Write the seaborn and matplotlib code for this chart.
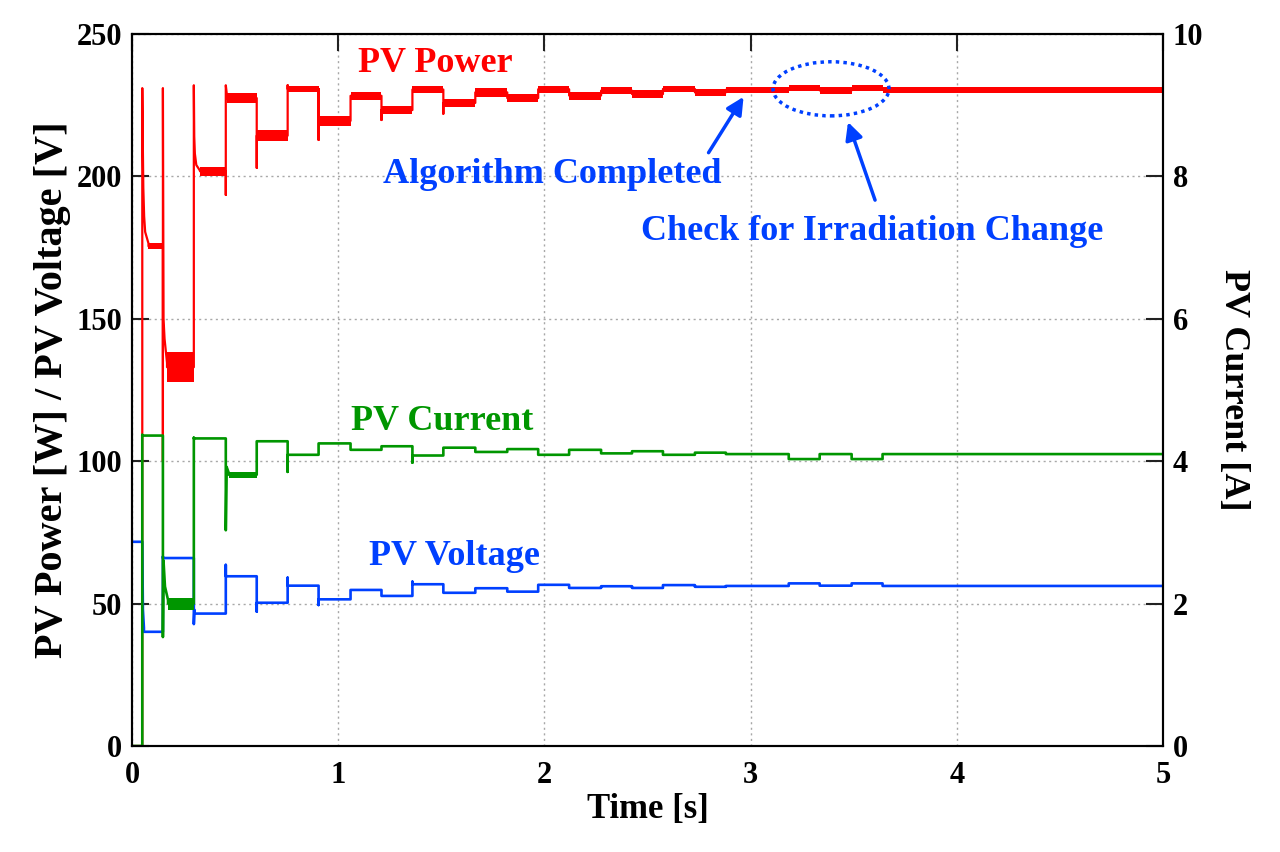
import numpy as np
import pandas as pd
import matplotlib
matplotlib.use('Agg')
import matplotlib.pyplot as plt
from matplotlib.patches import Ellipse
import seaborn as sns

# step instants of the P&O search [s]
step_times = [0.05, 0.15, 0.30, 0.455, 0.605, 0.755, 0.905, 1.06, 1.21, 1.36,
              1.51, 1.665, 1.82, 1.97, 2.12, 2.275, 2.425, 2.575, 2.73, 2.88,
              3.03, 3.185, 3.335, 3.49, 3.64]

# PV power [W]
power_init = 0.0
power_levels = [175.5, 133.0, 201.8, 227.5, 214.3, 230.7, 219.5, 228.3, 223.3, 230.5,
                225.8, 229.5, 227.5, 230.6, 228.4, 230.1, 228.9, 230.7, 229.5, 230.4,
                230.4, 231.0, 230.2, 231.0, 230.4]
power_lo = [0.0, 100.0, None, 193.5, 203.0, None, 212.8, None, 219.8, None,
            222.0, None, None, None, None, None, None, None, None, None,
            None, None, None, None, None]
power_hi = [231.0, 231.0, 232.0, 232.0, None, 232.0, 230.7, None, None, None,
            None, None, None, None, None, None, None, None, None, None,
            None, None, None, None, None]
power_trans = {0: [(0.002, 215.0), (0.005, 196.0), (0.009, 186.0), (0.014, 180.5), (0.03, 176.5)],
               1: [(0.003, 150.0), (0.008, 143.0), (0.02, 134.5)],
               2: [(0.002, 214.0), (0.005, 208.0), (0.012, 204.0), (0.03, 202.0)],
               3: [(0.004, 229.5)]}
power_band = [2.2, 10.5, 3.1, 3.5, 3.9, 1.9, 3.4, 3.0, 2.8, 2.5,
              3.1, 2.9, 2.9, 2.6, 2.8, 2.4, 2.7, 2.4, 2.4, 2.3,
              2.3, 2.3, 2.3, 2.3, 2.3]

# PV current [A]
current_init = 0.0
current_levels = [4.36, 2.00, 4.32, 3.81, 4.28, 4.09, 4.25, 4.16, 4.21, 4.08,
                  4.19, 4.13, 4.17, 4.09, 4.16, 4.11, 4.14, 4.09, 4.12, 4.10,
                  4.10, 4.03, 4.10, 4.03, 4.10]
current_lo = [None, 1.53, None, 3.03, None, 3.85, None, None, None, 3.98,
              None, None, None, None, None, None, None, None, None, None,
              None, None, None, None, None]
current_hi = [4.37, None, 4.33, None, None, None, None, None, None, None,
              None, None, None, None, None, None, None, None, None, None,
              None, None, None, None, None]
current_trans = {1: [(0.003, 2.60), (0.01, 2.24), (0.025, 2.05)],
                 3: [(0.004, 3.92), (0.015, 3.83)]}
current_band = [0.0, 0.17, 0.0, 0.08, 0.0, 0.0, 0.0, 0.0, 0.0, 0.0,
                0.0, 0.0, 0.0, 0.0, 0.0, 0.0, 0.0, 0.0, 0.0, 0.0,
                0.0, 0.0, 0.0, 0.0, 0.0]

# PV voltage [V]
voltage_init = 71.7
voltage_levels = [40.1, 66.0, 46.5, 59.6, 50.3, 56.3, 51.5, 54.8, 52.7, 56.8,
                  53.8, 55.4, 54.2, 56.6, 55.5, 56.1, 55.5, 56.5, 55.9, 56.2,
                  56.2, 57.1, 56.3, 57.1, 56.2]
voltage_lo = [None, None, 42.8, None, 47.2, None, 49.5, None, None, None,
              None, None, None, None, None, None, None, None, None, None,
              None, None, None, None, None]
voltage_hi = [None, 66.5, None, 63.6, None, 59.1, None, None, None, 57.7,
              None, None, None, None, None, None, None, None, None, None,
              None, None, None, None, None]
voltage_trans = {0: [(0.003, 48.0), (0.008, 41.5)],
                 2: [(0.003, 47.8)]}

T_END = 5.0
RED = '#FF0000'
GREEN = '#009600'
BLUE = '#0040FF'


def build_wave(init, levels, lo, hi, trans):
    xs, ys = [0.0], [init]
    prev = init
    for k, t in enumerate(step_times):
        xs.append(t); ys.append(prev)
        if lo[k] is not None:
            xs.append(t); ys.append(lo[k])
        if hi[k] is not None:
            xs.append(t); ys.append(hi[k])
        last_dt = 0.0
        for dt, v in trans.get(k, []):
            xs.append(t + dt); ys.append(v)
            last_dt = dt
        xs.append(t + last_dt); ys.append(levels[k])
        prev = levels[k]
    xs.append(T_END); ys.append(prev)
    return pd.DataFrame({'t': xs, 'v': ys})


def draw_bands(ax, levels, band, trans, color):
    for k, t in enumerate(step_times):
        if band[k] <= 0:
            continue
        tr = trans.get(k, [])
        a = t + (tr[-1][0] if tr else 0.0)
        b = step_times[k + 1] if k + 1 < len(step_times) else T_END
        ax.fill_between([a, b], levels[k] - band[k] / 2, levels[k] + band[k] / 2,
                        color=color, linewidth=0)


df_p = build_wave(power_init, power_levels, power_lo, power_hi, power_trans)
df_i = build_wave(current_init, current_levels, current_lo, current_hi, current_trans)
df_v = build_wave(voltage_init, voltage_levels, voltage_lo, voltage_hi, voltage_trans)

sns.set_theme(style='white')
plt.rcParams['font.family'] = ['Liberation Serif', 'DejaVu Serif']
plt.rcParams['font.weight'] = 'bold'
plt.rcParams['text.color'] = 'black'
plt.rcParams['axes.labelcolor'] = 'black'
plt.rcParams['xtick.color'] = 'black'
plt.rcParams['ytick.color'] = 'black'

fig = plt.figure(figsize=(12.8, 8.52), dpi=100)
ax = fig.add_axes([0.1031, 0.1244, 0.8055, 0.8357])

sns.lineplot(data=df_p, x='t', y='v', ax=ax, sort=False, estimator=None,
             color=RED, linewidth=1.6)
draw_bands(ax, power_levels, power_band, power_trans, RED)
sns.lineplot(data=df_v, x='t', y='v', ax=ax, sort=False, estimator=None,
             color=BLUE, linewidth=1.9)

ax.set_xlim(0, 5)
ax.set_ylim(0, 250)
ax.set_xticks(range(0, 6))
ax.set_yticks(range(0, 251, 50))
ax.grid(True, linestyle=(0, (1.5, 2.5)), color='#a8a8a8', linewidth=1.0)
ax.tick_params(direction='in', length=12, width=1.5, top=True, right=False,
               labelsize=22, pad=7, color='#222222', labelcolor='black')
ax.tick_params(axis='x', pad=11)
ax.set_xlabel('Time [s]', fontsize=25, fontweight='bold', labelpad=2)
ax.set_ylabel('PV Power [W] / PV Voltage [V]', fontsize=29, fontweight='bold', labelpad=4)
for lab in ax.get_xticklabels() + ax.get_yticklabels():
    lab.set_fontweight('bold')

ax2 = ax.twinx()
sns.lineplot(data=df_i, x='t', y='v', ax=ax2, sort=False, estimator=None,
             color=GREEN, linewidth=1.9)
draw_bands(ax2, current_levels, current_band, current_trans, GREEN)
ax2.set_ylim(0, 10)
ax2.set_yticks(range(0, 11, 2))
ax2.tick_params(direction='in', length=12, width=1.5, labelsize=22, pad=7,
                color='#222222', labelcolor='black')
ax2.set_ylabel('PV Current [A]', fontsize=26, fontweight='bold', rotation=270, labelpad=34)
ax2.set_xlabel('')
for lab in ax2.get_yticklabels():
    lab.set_fontweight('bold')

for a in (ax, ax2):
    for sp in a.spines.values():
        sp.set_color('black')
        sp.set_linewidth(1.5)

# labels for the traces
ax.text(1.469, 239.5, 'PV Power', color=RED, fontsize=26, fontweight='bold', ha='center', va='center')
ax.text(1.503, 114.1, 'PV Current', color=GREEN, fontsize=26, fontweight='bold', ha='center', va='center')
ax.text(1.566, 66.7, 'PV Voltage', color=BLUE, fontsize=26, fontweight='bold', ha='center', va='center')
ax.text(2.037, 200.8, 'Algorithm Completed', color=BLUE, fontsize=26, fontweight='bold',
        ha='center', va='center')
ax.text(3.589, 180.8, 'Check for Irradiation Change', color=BLUE, fontsize=26, fontweight='bold',
        ha='center', va='center')

# arrows and ellipse, in current-axis units
ax2.annotate('', xy=(2.973, 9.15), xytext=(2.789, 8.30),
             arrowprops=dict(arrowstyle='-|>', color=BLUE, lw=2.5, mutation_scale=26))
ax2.annotate('', xy=(3.468, 8.80), xytext=(3.608, 7.63),
             arrowprops=dict(arrowstyle='-|>', color=BLUE, lw=2.5, mutation_scale=26))
ax2.add_patch(Ellipse((3.39, 9.23), 0.5626, 0.76, fill=False, edgecolor=BLUE,
                      linestyle=(0, (1, 1.2)), linewidth=2.5))

fig.savefig('out.png', dpi=100)
